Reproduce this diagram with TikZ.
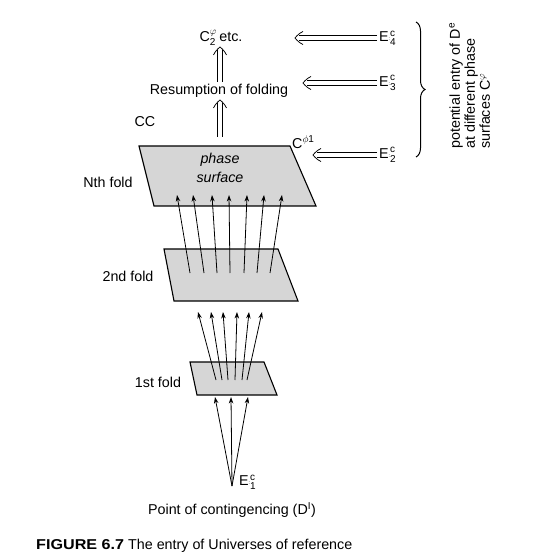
\documentclass[tikz,border=0pt]{standalone}
\usepackage{amsmath}
\usepackage{fontspec}
\setmainfont{Liberation Sans}
\usetikzlibrary{arrows.meta,decorations.pathreplacing,calc}
\newcommand{\ssub}[2]{\ensuremath{^{\text{#1}}_{\text{#2}}}}
% double (implies) arrow from #1 (tail) to #2 (head)
\newcommand{\darrow}[2]{%
  \coordinate (dA) at ($(#2)!3.5pt!(#1)$);
  \coordinate (dC) at ($(#2)!8pt!(#1)$);
  \draw[dline] ($(#1)!2.2pt!90:(#2)$) -- ($(dA)!2.2pt!90:(#2)$);
  \draw[dline] ($(#1)!2.2pt!-90:(#2)$) -- ($(dA)!2.2pt!-90:(#2)$);
  \draw[dline,line join=round] ($(dC)!6.5pt!90:(#2)$) to[bend left=12] (#2) to[bend left=12] ($(dC)!6.5pt!-90:(#2)$);
}
\begin{document}
\begin{tikzpicture}[x=1pt,y=-1pt,
  lbl/.style={inner sep=0pt,font=\fontsize{14.3}{15}\selectfont},
  fold/.style={draw=black,line width=1.1pt,fill=black!16},
  thinarrow/.style={line width=0.8pt,-{Stealth[length=6.5pt,width=4.5pt]}},
  dline/.style={line width=0.75pt}]
\useasboundingbox (0,0) rectangle (557,556);

% folds
\coordinate (n1) at (139,146); \coordinate (n2) at (290,146);
\coordinate (n3) at (316,206); \coordinate (n4) at (154,206);
\draw[fold] (n1) -- (n2) -- (n3) -- (n4) -- cycle;
\coordinate (s1) at (164,249); \coordinate (s2) at (278,249);
\coordinate (s3) at (298,301); \coordinate (s4) at (174,301);
\draw[fold] (s1) -- (s2) -- (s3) -- (s4) -- cycle;
\coordinate (f1) at (190,362); \coordinate (f2) at (264,362);
\coordinate (f3) at (277,395); \coordinate (f4) at (197,395);
\draw[fold] (f1) -- (f2) -- (f3) -- (f4) -- cycle;

% labels
\node[lbl] (phase) at (220,160) {\itshape phase};
\node[lbl] (surf) at (220,177) {\itshape surface};
\node[lbl] (nth) at (108,182) {Nth fold};
\node[lbl] (second) at (128,276) {2nd fold};
\node[lbl] (first) at (158,382) {1st fold};
\node[lbl] (cc) at (145,122) {CC};
\node[lbl,anchor=west] (cphi) at (292,142) {C\ensuremath{^{\phi\text{1}}}};
\node[lbl] (resum) at (219,91) {Resumption of folding};
\node[lbl] (c2) at (221,38) {C\ensuremath{^{\varphi}_{\text{2}}}\,etc.};
\node[lbl,anchor=west] (e4) at (379,38) {E\raisebox{1pt}{\tiny:}\ssub{c}{4}};
\node[lbl,anchor=west] (e3) at (379,83) {E\raisebox{1pt}{\tiny:}\ssub{c}{3}};
\node[lbl,anchor=west] (e2) at (379,155) {E\raisebox{1pt}{\tiny:}\ssub{c}{2}};
\node[lbl,anchor=west] (e1) at (239,482) {E\raisebox{1pt}{\tiny:}\ssub{c}{1}};
\node[lbl] (point) at (232,510) {Point of contingencing (D\textsuperscript{I})};
\node[lbl,anchor=west] (cap) at (36,546) {\textbf{\scalebox{1.13}[1]{FIGURE 6.7}} The entry of Universes of reference};
\node[lbl,rotate=90,align=left,anchor=north west] (pot) at (449,149)
  {potential entry of D\textsuperscript{e}\\at different phase\\surfaces C\textsuperscript{\ensuremath{\varphi}}};

% double arrows
\coordinate (a1) at (220,137); \coordinate (a1e) at (220,100);
\coordinate (a2) at (220,82);  \coordinate (a2e) at (220,47);
\darrow{a1}{a1e}
\darrow{a2}{a2e}
\coordinate (t4) at (377,38); \coordinate (t3) at (377,83); \coordinate (t2) at (377,155);
\coordinate (h4) at (295,38); \coordinate (h3) at (303,83); \coordinate (h2) at (313,155);
\darrow{t4}{h4}
\darrow{t3}{h3}
\darrow{t2}{h2}

% brace
\coordinate (b1) at (416,22); \coordinate (b2) at (416,157);
\draw[line width=1pt,decorate,decoration={brace,amplitude=9pt}] (b1) -- (b2);

% arrows 2nd -> Nth
\foreach \i/\xa/\xb in {1/190/177,2/204/193,3/217/212,4/230/229,5/244/247,6/257/264,7/270/282}{
  \coordinate (p\i) at (\xa,273); \coordinate (q\i) at (\xb,195);
  \draw[thinarrow] (p\i) -- (q\i);}
% arrows 1st -> 2nd
\foreach \i/\xa/\xb in {1/216/198,2/222/211,3/228/223,4/235/237,5/242/249,6/247/262}{
  \coordinate (r\i) at (\xa,380); \coordinate (t\i) at (\xb,312);
  \draw[thinarrow] (r\i) -- (t\i);}
% arrows apex -> 1st
\coordinate (apex) at (232,486);
\foreach \i/\xb in {1/215,2/231,3/248}{
  \coordinate (u\i) at (\xb,397);
  \draw[thinarrow] (apex) -- (u\i);}
\end{tikzpicture}
\end{document}
